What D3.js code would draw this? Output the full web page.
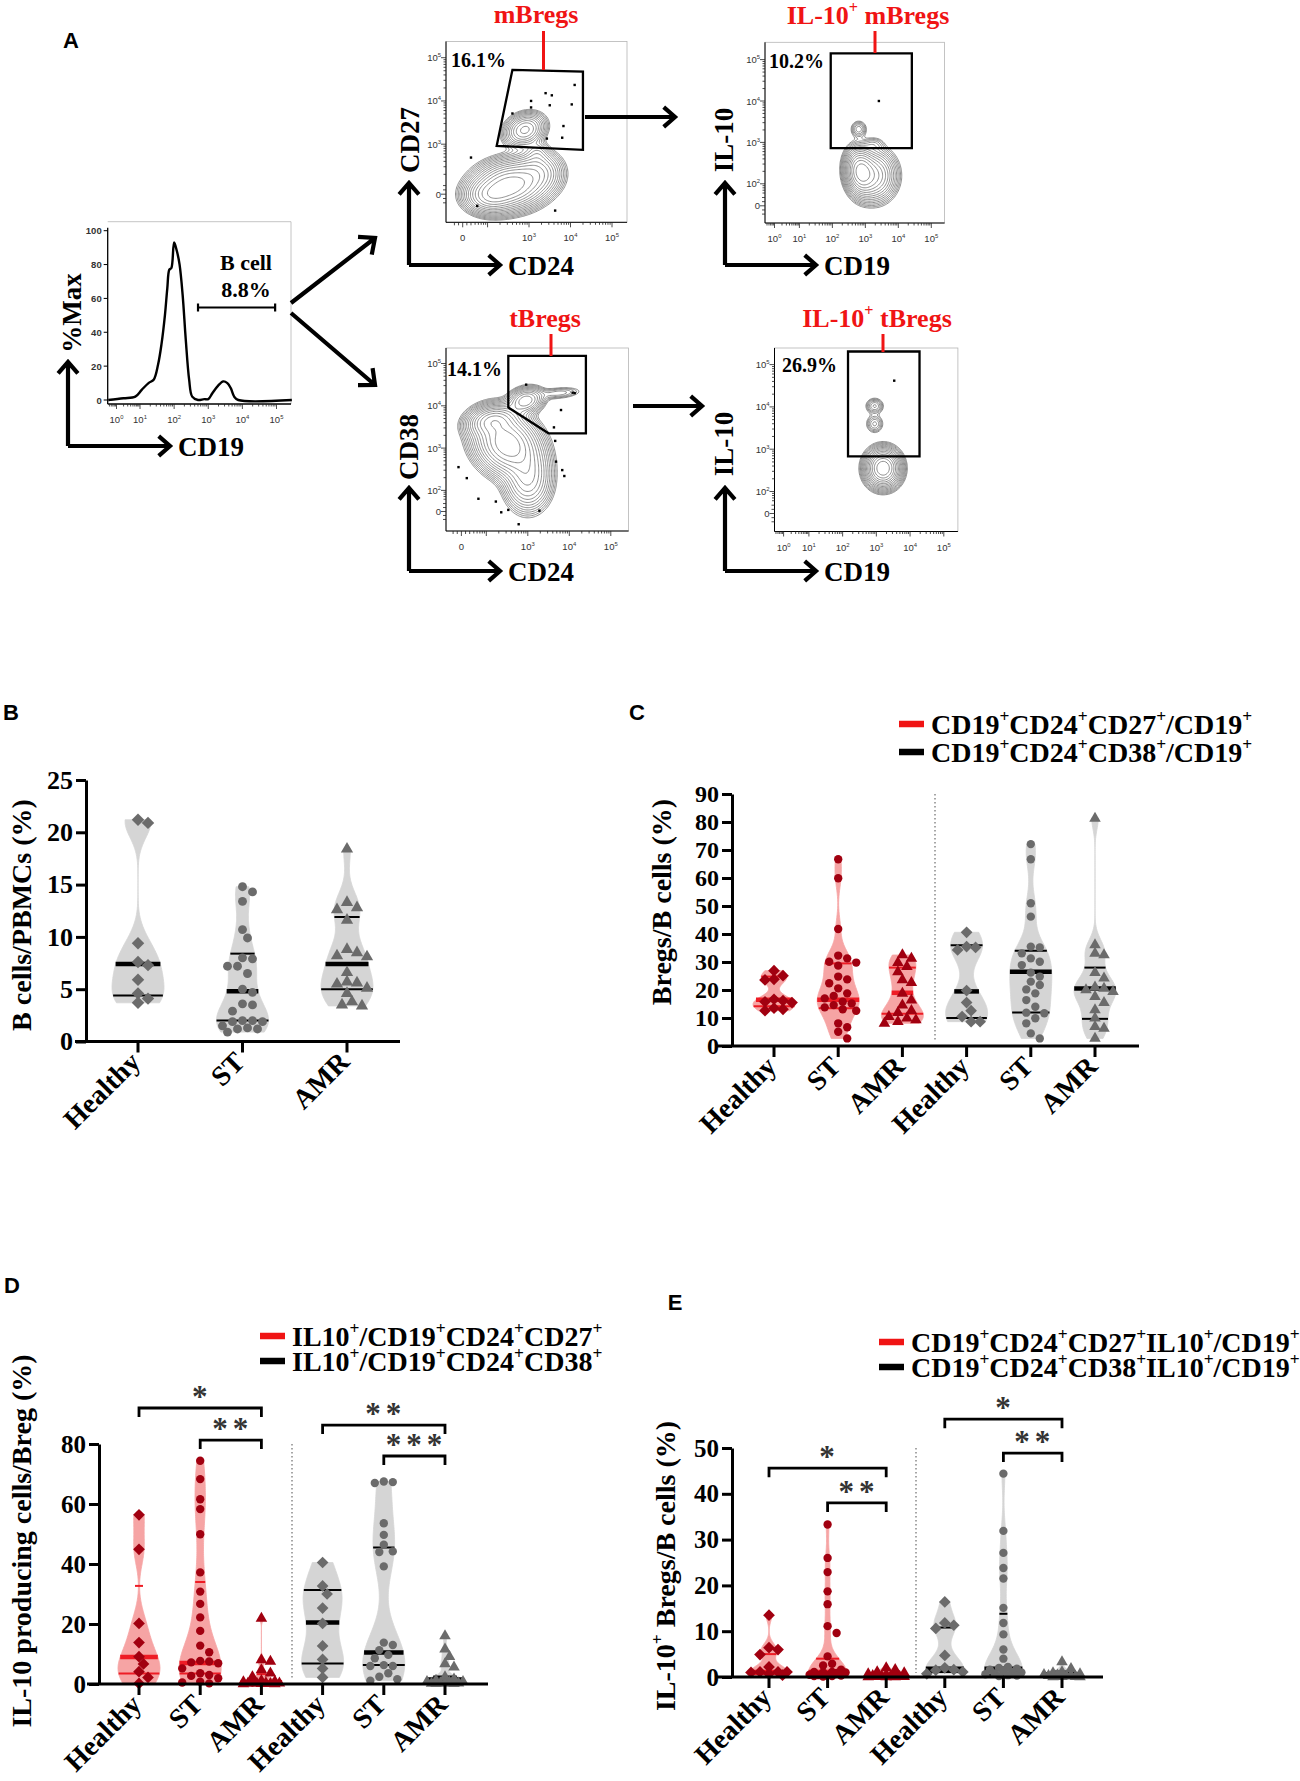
<!DOCTYPE html>
<html>
<head>
<meta charset="utf-8">
<title>Regulatory B cells</title>
<style>
  body { margin: 0; background: #fff; }
  svg { display: block; background: #fff; }
</style>
</head>
<body>
<script src="https://d3js.org/d3.v7.min.js"></script>
<script>
// ---------------- data ----------------
// Panel A: CD19 histogram trace (log10 CD19, % of max)
const histLog = [-0.35, 0.3, 0.8, 1.05, 1.25, 1.4, 1.53, 1.63, 1.73, 1.8, 1.86, 1.92, 2.0, 2.08, 2.16, 2.25, 2.34, 2.44, 2.53, 2.7, 2.88, 3.0, 3.12, 3.29, 3.44, 3.56, 3.66, 3.76, 3.88, 5.45];
const histPct = [0, 1, 2, 6, 10, 12, 21, 33, 50, 66, 77, 78, 93, 88, 80, 62, 36, 12, 2, 0, 0.5, 0.5, 4, 8.5, 11, 10, 7, 2, 0, 0];

// Flow populations: [x decade, y decade, sd x, sd y, weight, correlation]
const mBregPops = [[2.55, 2.05, 0.42, 0.27, 1.0, 0.1], [2.05, 1.8, 0.3, 0.2, 0.5, 0], [3.2, 2.35, 0.3, 0.25, 0.3, 0], [2.9, 3.33, 0.24, 0.19, 0.4, 0.2], [3.2, 2.8, 0.15, 0.15, 0.08, 0]];
const il10mPops = [[2.85, 2.3, 0.22, 0.27, 1.0, -0.1], [3.25, 2.2, 0.33, 0.3, 0.6, 0], [2.8, 3.32, 0.13, 0.11, 0.1, 0], [3.25, 2.95, 0.18, 0.1, 0.05, 0]];
const tBregPops = [[2.5, 3.1, 0.38, 0.36, 1.0, -0.2], [2.15, 3.65, 0.3, 0.18, 0.5, 0.2], [3.0, 2.3, 0.28, 0.4, 0.35, 0], [2.95, 4.12, 0.22, 0.16, 0.32, 0.2], [3.75, 4.3, 0.3, 0.08, 0.06, 0.3]];
const il10tPops = [[3.2, 2.55, 0.25, 0.22, 1.0, 0], [2.95, 4.02, 0.14, 0.1, 0.09, 0], [2.95, 3.6, 0.14, 0.12, 0.07, 0]];

// single events outside contours
const mBregDots = [[2.6, 3.71], [3.05, 4.0], [3.4, 4.18], [3.55, 4.13], [4.1, 4.37], [3.05, 3.85], [3.5, 3.9], [4.03, 3.92], [3.83, 3.42], [3.8, 3.15], [3.43, 3.13], [1.6, 2.69], [1.75, 1.57], [3.63, 1.46]];
const il10mDots = [[3.41, 4.0]];
const tBregDots = [[2.96, 4.5], [4.08, 4.31], [4.13, 4.3], [3.8, 3.9], [3.63, 3.49], [3.66, 3.17], [3.68, 2.68], [3.83, 2.48], [3.88, 2.34], [1.33, 2.55], [1.53, 2.29], [1.81, 1.79], [2.23, 1.72], [2.36, 1.45], [2.53, 1.51], [3.28, 1.49], [2.78, 1.15]];
const il10tDots = [[3.53, 4.62]];

// gates (decade units)
const mBregGate = [[2.6, 4.72], [4.3, 4.68], [4.3, 2.87], [2.22, 2.96]];
const il10mGate = [[1.95, 5.15], [4.41, 5.15], [4.41, 2.86], [1.95, 2.86]];
const tBregGate = [[2.53, 5.18], [4.4, 5.18], [4.4, 3.35], [3.5, 3.35], [2.53, 3.96]];
const il10tGate = [[2.16, 5.31], [4.28, 5.31], [4.28, 2.83], [2.16, 2.83]];

const groupLabels = ["Healthy", "ST", "AMR"];

// Panel B: B cells / PBMCs (%)
const bHealthy = [21.2, 20.9, 9.4, 7.6, 7.3, 5.9, 4.6, 4.1, 3.7];
const bST = [14.8, 14.3, 13.4, 10.7, 9.9, 8.0, 7.9, 7.2, 7.2, 6.5, 5.0, 4.7, 3.6, 3.5, 2.9, 2.0, 2.0, 1.9, 1.9, 1.5, 1.3, 1.2, 1.2, 0.9];
const bAMR = [18.4, 13.3, 12.8, 12.6, 11.6, 8.8, 8.5, 8.2, 8.1, 6.6, 5.7, 5.6, 5.5, 5.1, 4.6, 3.8, 3.5, 3.4];
const bMedian = [7.4, 4.8, 7.4], bQ1 = [4.4, 2.0, 5.0], bQ3 = [null, 8.4, 11.9];

// Panel C: Bregs / B cells (%)
const cRedHealthy = [26.9, 25.1, 23.8, 23.6, 16.7, 16.2, 15.8, 15.5, 13.5, 13.1, 12.6];
const cRedST = [66.7, 59.9, 41.8, 32.3, 31.3, 30.1, 29.8, 28.7, 24.8, 23.8, 22.4, 20.6, 18.8, 17.9, 17.0, 15.8, 15.2, 14.6, 13.8, 13.1, 12.6, 8.1, 6.7, 5.1, 2.7];
const cRedAMR = [32.5, 31.3, 29.8, 28.3, 26.5, 23.6, 22.6, 18.8, 16.4, 14.6, 12.6, 11.9, 10.5, 9.9, 9.3, 8.7, 8.1];
const cGrayHealthy = [40.6, 35.5, 35.2, 34.3, 19.8, 15.5, 12.6, 10.5, 8.7, 8.7];
const cGrayST = [72.1, 66.7, 51.0, 46.2, 35.5, 35.2, 33.1, 31.3, 30.1, 28.9, 26.2, 24.8, 23.0, 21.8, 20.2, 18.8, 16.4, 14.0, 11.9, 11.7, 9.9, 8.1, 4.5, 2.7];
const cGrayAMR = [81.3, 36.1, 33.1, 32.5, 26.2, 24.2, 21.0, 20.6, 20.0, 19.4, 17.6, 15.5, 12.9, 9.9, 6.9, 6.3, 2.7];
const cMedian = [16.5, 16.5, 19.0, 19.5, 26.5, 20.5], cQ1 = [14.2, 13.5, 11.5, 10.0, 12.0, 9.7], cQ3 = [24.8, 29.5, 28.0, 36.0, 34.0, 28.0];

// Panel D: IL-10 producing cells / Breg (%)
const dRedHealthy = [56.4, 44.9, 20.2, 13.8, 9.1, 6.7, 4.1, 2.2, 0.2];
const dRedST = [74.4, 68.3, 61.6, 58.3, 49.9, 37.2, 30.8, 26.7, 22.2, 17.7, 12.8, 10.6, 7.7, 7.5, 7.2, 6.9, 5.2, 3.6, 3.0, 2.7, 1.9, 0.8, 0.5, 0.2];
const dRedAMR = [21.9, 8.0, 7.5, 4.7, 3.6, 2.4, 1.1, 0.9, 0.7, 0.5, 0.4, 0.3, 0.2, 0.2, 0.1, 0.1, 0.0, 0.0];
const dGrayHealthy = [40.5, 32.7, 30.0, 25.3, 20.2, 12.7, 8.2, 5.2, 2.2];
const dGrayST = [67.5, 67.3, 67.0, 53.6, 49.7, 46.4, 44.2, 44.0, 39.2, 13.8, 13.0, 11.3, 9.7, 8.6, 6.3, 6.0, 6.0, 3.6, 2.4, 1.6, 1.1];
const dGrayAMR = [16.0, 11.6, 9.1, 6.7, 5.6, 2.4, 1.6, 1.2, 0.8, 0.8, 0.6, 0.4, 0.3, 0.2, 0.2, 0.1, 0.1];
const dMedian = [9.0, 7.0, 0.6, 20.5, 10.5, 1.5], dQ1 = [3.5, 3.5, 0.1, 6.8, 6.3, 0.4], dQ3 = [32.7, 34.0, 3.3, 31.3, 45.5, 2.5];
const dBrackets = [[0, 2, 92, "*"], [1, 2, 81.3, "**"], [3, 5, 86.3, "**"], [4, 5, 76, "***"]];

// Panel E: IL-10+ Bregs / B cells (%)
const eRedHealthy = [13.5, 6.4, 6.0, 4.9, 2.2, 1.1, 1.1, 1.1, 1.0, 0.7, 0.4];
const eRedST = [33.3, 26.0, 22.9, 18.7, 15.9, 11.1, 9.6, 4.5, 2.9, 2.5, 1.6, 1.1, 1.1, 1.0, 1.0, 0.9, 0.5, 0.4, 0.4, 0.3, 0.2, 0.2, 0.1];
const eRedAMR = [2.0, 1.6, 1.1, 0.9, 0.7, 0.5, 0.4, 0.3, 0.2, 0.2, 0.1, 0.1, 0.1, 0.0, 0.0, 0.0];
const eGrayHealthy = [16.4, 11.8, 11.3, 10.6, 4.7, 2.0, 1.6, 1.5, 1.1, 0.7];
const eGrayST = [44.4, 31.9, 27.1, 23.8, 21.5, 15.1, 11.8, 9.3, 6.0, 4.0, 2.2, 2.0, 1.8, 1.6, 1.3, 1.1, 1.0, 0.8, 0.6, 0.4, 0.3, 0.2];
const eGrayAMR = [3.3, 1.8, 1.1, 0.9, 0.7, 0.5, 0.4, 0.4, 0.3, 0.2, 0.1, 0.1, 0.0, 0.0];
const eMedian = [1.1, 1.1, 0.3, 1.8, 1.8, 0.6], eQ1 = [0.6, 0.4, 0.1, 1.1, 0.5, 0.2], eQ3 = [5.0, 4.0, 0.8, 10.8, 13.8, 1.2];
const eBrackets = [[0, 2, 45.6, "*"], [1, 2, 38.0, "**"], [3, 5, 56.3, "*"], [4, 5, 48.9, "**"]];

// ---------------- drawing ----------------
const SERIF = '"Liberation Serif","Times New Roman",serif';
const SANS = '"Liberation Sans",Arial,sans-serif';
const RED = "#f01414";

const svg = d3.select("body").append("svg").attr("width", 1300).attr("height", 1781);

// text with "^x" meaning superscript x
function rich(sel, str, fs) {
  const parts = str.split(/(\^.)/).filter(s => s.length);
  let up = false;
  parts.forEach(p => {
    if (p[0] === "^") {
      sel.append("tspan").attr("dy", up ? 0 : -0.42 * fs).attr("font-size", fs * 0.62).text(p.slice(1));
      up = true;
    } else {
      sel.append("tspan").attr("dy", up ? 0.42 * fs : 0).attr("font-size", fs).text(p);
      up = false;
    }
  });
  return sel;
}

function label(x, y, str, fs, opt = {}) {
  const t = svg.append("text").attr("x", x).attr("y", y)
    .attr("font-family", opt.family || SERIF).attr("font-weight", opt.weight || "bold")
    .attr("font-size", fs).attr("fill", opt.fill || "#000")
    .attr("text-anchor", opt.anchor || "start");
  if (opt.rotate) t.attr("transform", `rotate(${opt.rotate},${x},${y})`);
  return rich(t, str, fs);
}

function arrow(x1, y1, x2, y2, sw = 4.2, head = 15) {
  const a = Math.atan2(y2 - y1, x2 - x1), s = 0.72;
  const p = d3.path();
  p.moveTo(x1, y1); p.lineTo(x2, y2);
  p.moveTo(x2 - head * Math.cos(a - s), y2 - head * Math.sin(a - s));
  p.lineTo(x2, y2);
  p.lineTo(x2 - head * Math.cos(a + s), y2 - head * Math.sin(a + s));
  svg.append("path").attr("d", p.toString()).attr("fill", "none").attr("stroke", "#000")
    .attr("stroke-width", sw).attr("stroke-linejoin", "miter");
}

function lAxes(ox, oy, top, right, xName, yName, yNameX, yNameY) {
  arrow(ox, oy, ox, top);
  arrow(ox, oy, right, oy);
  label(right + 8, oy + 10, xName, 27);
  label(yNameX, yNameY, yName, 27, { anchor: "middle", rotate: -90 });
}

// log-decade ticks
function decadeTicks(g, scale, lo, hi, zero, horizontal, at, labels) {
  const ticks = [];
  for (let n = Math.floor(lo); n < 5; n++) {
    for (let k = 1; k <= 9; k++) {
      const v = n + Math.log10(k);
      if (v > lo && v <= 5.01 && (zero == null || v > zero + 0.25)) ticks.push([v, k === 1 ? 5 : 2.5]);
    }
  }
  ticks.push([5, 5]);
  if (zero != null) [-0.2, -0.1, 0, 0.1, 0.2].forEach(d => ticks.push([zero + d, d === 0 ? 5 : 3]));
  ticks.forEach(([v, len]) => {
    const p = scale(v);
    if (horizontal) g.append("line").attr("x1", p).attr("x2", p).attr("y1", at).attr("y2", at + len);
    else g.append("line").attr("y1", p).attr("y2", p).attr("x1", at).attr("x2", at - len);
  });
  g.selectAll("line").attr("stroke", "#222").attr("stroke-width", 0.8);
  labels.forEach(([v, s]) => {
    const p = scale(v);
    const t = g.append("text").attr("font-family", SANS).attr("font-size", 9.5).attr("fill", "#333");
    if (horizontal) t.attr("x", p).attr("y", at + 19).attr("text-anchor", "middle");
    else t.attr("x", at - 5).attr("y", p + 3.5).attr("text-anchor", "end");
    rich(t, s, 9.5);
  });
}

function flowPlot(c) {
  const g = svg.append("g");
  const x = d3.scaleLinear().domain(c.xKnots).range(c.xPx);
  const y = d3.scaleLinear().domain(c.yKnots).range(c.yPx);
  const [fx0, fy0, fx1, fy1] = c.frame;
  g.append("rect").attr("x", fx0).attr("y", fy0).attr("width", fx1 - fx0).attr("height", fy1 - fy0)
    .attr("fill", "none").attr("stroke", "#b5b5b5").attr("stroke-width", 0.8);
  const xd = [x.invert(fx0), x.invert(fx1)], yd = [y.invert(fy1), y.invert(fy0)];
  // density grid
  const nx = 150, ny = 150, vals = new Float64Array(nx * ny);
  for (let j = 0; j < ny; j++) {
    for (let i = 0; i < nx; i++) {
      const vx = xd[0] + (i + 0.5) / nx * (xd[1] - xd[0]);
      const vy = yd[1] - (j + 0.5) / ny * (yd[1] - yd[0]);
      let s = 0;
      c.pops.forEach(([mx, my, sx, sy, w, r]) => {
        const dx = (vx - mx) / sx, dy = (vy - my) / sy;
        s += w * Math.exp(-(dx * dx - 2 * r * dx * dy + dy * dy) / (2 * (1 - r * r)));
      });
      vals[j * nx + i] = s;
    }
  }
  const mx = d3.max(vals);
  const thr = d3.range(16).map(k => mx * Math.pow(0.76, k));
  const conts = d3.contours().size([nx, ny]).thresholds(thr)(vals);
  const proj = d3.geoTransform({
    point(px, py) {
      this.stream.point(x(xd[0] + px / nx * (xd[1] - xd[0])), y(yd[1] - py / ny * (yd[1] - yd[0])));
    }
  });
  g.append("g").selectAll("path").data(conts).join("path")
    .attr("d", d3.geoPath(proj)).attr("fill", "none")
    .attr("stroke", "#6a6a6a").attr("stroke-width", 0.75);
  g.append("g").selectAll("rect").data(c.dots).join("rect")
    .attr("x", d => x(d[0]) - 1.2).attr("y", d => y(d[1]) - 1.2)
    .attr("width", 2.4).attr("height", 2.4).attr("fill", "#000");
  g.append("polygon").attr("points", c.gate.map(d => [x(d[0]), y(d[1])].join(",")).join(" "))
    .attr("fill", "none").attr("stroke", "#000").attr("stroke-width", 2.3);
  g.append("line").attr("x1", fx0).attr("x2", fx0).attr("y1", fy0).attr("y2", fy1).attr("stroke", "#000");
  g.append("line").attr("x1", fx0).attr("x2", fx1).attr("y1", fy1).attr("y2", fy1).attr("stroke", "#000");
  decadeTicks(g.append("g"), x, xd[0], xd[1], c.xZero, true, fy1, c.xLabels);
  decadeTicks(g.append("g"), y, yd[0], yd[1], c.yZero, false, fx0, c.yLabels);
}

// ---------------- panel A ----------------
label(71, 48, "A", 22, { family: SANS, anchor: "middle" });

// histogram
{
  const g = svg.append("g");
  const fx0 = 107.7, fx1 = 291, fy0 = 221.7, fy1 = 404;
  const x = d3.scaleLinear().domain([0, 1, 5]).range([116.5, 140, 276.5]);
  const y = d3.scaleLinear().domain([0, 100]).range([400, 230.7]);
  g.append("path").attr("d", `M${fx0},${fy0}H${fx1}V${fy1}`).attr("fill", "none").attr("stroke", "#b5b5b5").attr("stroke-width", 0.8);
  g.append("line").attr("x1", fx0).attr("x2", fx0).attr("y1", fy0 + 6).attr("y2", fy1).attr("stroke", "#000").attr("stroke-width", 1.3);
  g.append("line").attr("x1", fx0).attr("x2", fx1).attr("y1", fy1).attr("y2", fy1).attr("stroke", "#000").attr("stroke-width", 1.3);
  decadeTicks(g.append("g"), x, -0.35, 5.4, null, true, fy1, d3.range(6).map(n => [n, "10^" + n]));
  const yt = g.append("g");
  d3.range(0, 101, 20).forEach(v => {
    yt.append("line").attr("x1", fx0).attr("x2", fx0 - 4).attr("y1", y(v)).attr("y2", y(v)).attr("stroke", "#000");
    yt.append("text").attr("x", fx0 - 6).attr("y", y(v) + 3.5).attr("text-anchor", "end")
      .attr("font-family", SANS).attr("font-weight", "bold").attr("font-size", 9.5).attr("fill", "#333").text(v);
  });
  g.append("path").datum(d3.zip(histLog, histPct))
    .attr("d", d3.line().x(d => x(d[0])).y(d => y(d[1])).curve(d3.curveCatmullRom.alpha(0.5)))
    .attr("fill", "none").attr("stroke", "#000").attr("stroke-width", 2.4).attr("stroke-linejoin", "round");
  const gy = 307.5, gx0 = x(2.7), gx1 = x(4.96);
  g.append("path").attr("d", `M${gx0},${gy}H${gx1}M${gx0},${gy - 4}V${gy + 4}M${gx1},${gy - 4}V${gy + 4}`)
    .attr("stroke", "#000").attr("stroke-width", 2.2);
  label(246, 270, "B cell", 22, { anchor: "middle" });
  label(246, 296.5, "8.8%", 22, { anchor: "middle" });
}
lAxes(68, 446, 362, 170, "CD19", "%Max", 81, 313);
arrow(291, 303, 375, 238, 4.2, 17);
arrow(291, 313, 375, 385, 4.2, 17);

// mBregs
flowPlot({
  frame: [446, 41.5, 627, 222.3], xKnots: [1.4, 3, 5], xPx: [462.7, 529, 612], yKnots: [1.84, 3, 5], yPx: [194.2, 144.2, 57.7],
  xZero: 1.4, yZero: 1.84, pops: mBregPops, dots: mBregDots, gate: mBregGate,
  xLabels: [[1.4, "0"], [3, "10^3"], [4, "10^4"], [5, "10^5"]], yLabels: [[1.84, "0"], [3, "10^3"], [4, "10^4"], [5, "10^5"]]
});
label(536, 23, "mBregs", 26, { anchor: "middle", fill: RED });
svg.append("line").attr("x1", 543.5).attr("x2", 543.5).attr("y1", 31).attr("y2", 70).attr("stroke", RED).attr("stroke-width", 3);
label(451, 67, "16.1%", 20);
lAxes(409, 265, 183, 500, "CD24", "CD27", 419, 140);
arrow(585, 117, 675, 117);

// IL-10+ mBregs
flowPlot({
  frame: [765, 42.3, 944.6, 223], xKnots: [0, 1, 5], xPx: [774.5, 799.4, 931.3], yKnots: [1.47, 2, 5], yPx: [205.8, 183.8, 59.6],
  xZero: null, yZero: 1.47, pops: il10mPops, dots: il10mDots, gate: il10mGate,
  xLabels: d3.range(6).map(n => [n, "10^" + n]), yLabels: [[1.47, "0"], [2, "10^2"], [3, "10^3"], [4, "10^4"], [5, "10^5"]]
});
label(868, 24, "IL-10^+ mBregs", 26, { anchor: "middle", fill: RED });
svg.append("line").attr("x1", 875).attr("x2", 875).attr("y1", 31).attr("y2", 53).attr("stroke", RED).attr("stroke-width", 3);
label(769, 68, "10.2%", 20);
lAxes(725, 265, 183, 816, "CD19", "IL-10", 733, 140);

// tBregs
flowPlot({
  frame: [446, 348, 628.6, 531], xKnots: [1.4, 3, 5], xPx: [461.4, 527.8, 610.8], yKnots: [1.47, 2, 5], yPx: [511.5, 490.4, 363.5],
  xZero: 1.4, yZero: 1.47, pops: tBregPops, dots: tBregDots, gate: tBregGate,
  xLabels: [[1.4, "0"], [3, "10^3"], [4, "10^4"], [5, "10^5"]], yLabels: [[1.47, "0"], [2, "10^2"], [3, "10^3"], [4, "10^4"], [5, "10^5"]]
});
label(545, 327, "tBregs", 26, { anchor: "middle", fill: RED });
svg.append("line").attr("x1", 551).attr("x2", 551).attr("y1", 334).attr("y2", 356).attr("stroke", RED).attr("stroke-width", 3);
label(447, 376, "14.1%", 20);
lAxes(409, 571, 488, 500, "CD24", "CD38", 418, 447);
arrow(633, 406, 702, 406);

// IL-10+ tBregs
flowPlot({
  frame: [774.5, 348, 957.9, 531.5], xKnots: [0, 1, 5], xPx: [783.6, 808.9, 943.8], yKnots: [1.47, 2, 5], yPx: [513.5, 491.5, 364.6],
  xZero: null, yZero: 1.47, pops: il10tPops, dots: il10tDots, gate: il10tGate,
  xLabels: d3.range(6).map(n => [n, "10^" + n]), yLabels: [[1.47, "0"], [2, "10^2"], [3, "10^3"], [4, "10^4"], [5, "10^5"]]
});
label(877, 327, "IL-10^+ tBregs", 26, { anchor: "middle", fill: RED });
svg.append("line").attr("x1", 883).attr("x2", 883).attr("y1", 334).attr("y2", 352).attr("stroke", RED).attr("stroke-width", 3);
label(782, 372, "26.9%", 20);
lAxes(725, 571, 488, 816, "CD19", "IL-10", 733, 444);

// ---------------- violin panels ----------------
const styles = {
  gray: { fill: "#d5d5d5", pt: "#6b6b6b", line: "#000" },
  red: { fill: "#f6a4a4", pt: "#a10010", line: "#ee1c25" }
};
const shapes = { diamond: d3.symbolSquare, circle: d3.symbolCircle, triangle: d3.symbolTriangle };

// beeswarm offsets, kept within +-maxOff (points pile up where dense)
function swarm(vals, y, diam, maxOff) {
  const order = d3.range(vals.length).sort((a, b) => vals[b] - vals[a]);
  const placed = [], off = [];
  order.forEach(i => {
    const py = y(vals[i]);
    let best = 0, bestD = -1;
    for (let k = 0; ; k++) {
      const dx = (k % 2 ? 1 : -1) * Math.ceil(k / 2) * diam * 0.5;
      if (Math.abs(dx) > maxOff) break;
      const dmin = placed.length ? d3.min(placed, ([qx, qy]) => Math.hypot(qx - dx, qy - py)) : Infinity;
      if (dmin >= diam * 0.92) { best = dx; break; }
      if (dmin > bestD) { bestD = dmin; best = dx; }
    }
    placed.push([best, py]);
    off[i] = best;
  });
  return off;
}

function violinPanel(p) {
  const g = svg.append("g");
  const y = d3.scaleLinear().domain([0, p.yMax]).range([p.yBase, p.yTop]);
  const x = d3.scalePoint().domain(d3.range(p.groups.length)).range(p.catRange);
  if (p.sepX) g.append("line").attr("x1", p.sepX).attr("x2", p.sepX).attr("y1", p.yTop).attr("y2", p.yBase - 4)
    .attr("stroke", "#777").attr("stroke-width", 1.3).attr("stroke-dasharray", "1.5,2.5");

  p.groups.forEach((grp, i) => {
    const st = styles[grp.style], vals = grp.values;
    const sorted = vals.slice().sort(d3.ascending);
    const [lo, hi] = d3.extent(vals), n = vals.length;
    const iqr = d3.quantileSorted(sorted, 0.75) - d3.quantileSorted(sorted, 0.25);
    const sd = d3.deviation(vals);
    let h = 0.68 * Math.min(sd, iqr / 1.34 || sd) * Math.pow(n, -0.2);
    h = Math.max(h, (hi - lo) * 0.05, p.yMax * 0.012);
    const f = v => d3.mean(vals, d => Math.exp(-0.5 * ((v - d) / h) ** 2));
    const steps = d3.range(121).map(k => lo + (hi - lo) * k / 120);
    const dmax = d3.max(steps, f);
    const w = v => f(v) / dmax * p.halfW;
    const cx = x(i);
    g.append("path").datum(steps)
      .attr("d", d3.area().x0(v => cx - w(v)).x1(v => cx + w(v)).y(v => y(v)))
      .attr("fill", st.fill).attr("stroke", st.fill).attr("stroke-width", 0.8);
    [[grp.q1, 2], [grp.q3, 2], [grp.med, 4.5]].forEach(([v, sw]) => {
      if (v == null || v < lo || v > hi) return;
      const hw = Math.max(w(v), 4);
      g.append("line").attr("x1", cx - hw).attr("x2", cx + hw).attr("y1", y(v)).attr("y2", y(v))
        .attr("stroke", st.line).attr("stroke-width", sw);
    });
    const off = swarm(vals, y, p.diam, p.halfW * 0.95);
    const sym = d3.symbol(shapes[grp.shape], grp.shape === "diamond" ? p.ptSize * 1.25 : grp.shape === "triangle" ? p.ptSize * 1.05 : p.ptSize);
    g.append("g").selectAll("path").data(vals).join("path")
      .attr("d", sym)
      .attr("transform", (d, j) => `translate(${cx + off[j]},${y(d)})` + (grp.shape === "diamond" ? " rotate(45)" : ""))
      .attr("fill", st.pt);
  });

  // y axis
  const ya = g.append("g").attr("transform", `translate(${p.axisX},0)`)
    .call(d3.axisLeft(y).tickValues(d3.range(0, p.yMax + 0.001, p.yStep)).tickSize(10).tickSizeOuter(0).tickPadding(3));
  ya.select(".domain").attr("stroke-width", 3);
  ya.selectAll(".tick line").attr("stroke-width", 3);
  ya.selectAll(".tick text").attr("font-family", SERIF).attr("font-weight", "bold").attr("font-size", p.tickFs).attr("fill", "#000");
  // x axis
  g.append("line").attr("x1", p.xLine[0]).attr("x2", p.xLine[1]).attr("y1", p.yBase).attr("y2", p.yBase)
    .attr("stroke", "#000").attr("stroke-width", 3);
  p.groups.forEach((grp, i) => {
    g.append("line").attr("x1", x(i)).attr("x2", x(i)).attr("y1", p.yBase).attr("y2", p.yBase + 11)
      .attr("stroke", "#000").attr("stroke-width", 3);
    const tx = x(i) + 4, ty = p.yBase + 22;
    g.append("text").attr("x", tx).attr("y", ty).attr("transform", `rotate(-45,${tx},${ty})`)
      .attr("text-anchor", "end").attr("font-family", SERIF).attr("font-weight", "bold")
      .attr("font-size", 28).text(groupLabels[i % 3]);
  });
  label(p.yLabelPos[0], p.yLabelPos[1], p.yLabel, 28, { anchor: "middle", rotate: -90 });
  if (p.legend) p.legend.forEach(([txt, col], k) => {
    const ly = p.legendPos[1] + k * p.legendGap;
    svg.append("line").attr("x1", p.legendPos[0]).attr("x2", p.legendPos[0] + 25).attr("y1", ly).attr("y2", ly)
      .attr("stroke", col).attr("stroke-width", 6.5);
    label(p.legendPos[0] + 32, ly + 9.5, txt, 28);
  });
  if (p.brackets) p.brackets.forEach(([a, b, v, s]) => {
    const by = y(v);
    g.append("path").attr("d", `M${x(a)},${by + 9}V${by}H${x(b)}V${by + 9}`)
      .attr("fill", "none").attr("stroke", "#000").attr("stroke-width", 2.8);
    g.append("text").attr("x", (x(a) + x(b)) / 2 + 2).attr("y", by - 1).attr("text-anchor", "middle")
      .attr("font-family", SERIF).attr("font-weight", "bold").attr("font-size", 31).attr("fill", "#333")
      .attr("letter-spacing", 5).text(s);
  });
}

label(11, 720, "B", 22, { family: SANS, anchor: "middle" });
violinPanel({
  yBase: 1041.5, yTop: 780, yMax: 25, yStep: 5, axisX: 86, xLine: [75, 400], catRange: [138, 347], halfW: 26,
  diam: 10, ptSize: 62, tickFs: 26, yLabel: "B cells/PBMCs (%)", yLabelPos: [31, 915],
  groups: [
    { values: bHealthy, style: "gray", shape: "diamond", med: bMedian[0], q1: bQ1[0], q3: bQ3[0] },
    { values: bST, style: "gray", shape: "circle", med: bMedian[1], q1: bQ1[1], q3: bQ3[1] },
    { values: bAMR, style: "gray", shape: "triangle", med: bMedian[2], q1: bQ1[2], q3: bQ3[2] }
  ]
});

const shapeOrder = ["diamond", "circle", "triangle"];
function sixGroups(lists, med, q1, q3) {
  return lists.map((v, i) => ({ values: v, style: i < 3 ? "red" : "gray", shape: shapeOrder[i % 3], med: med[i], q1: q1[i], q3: q3[i] }));
}

label(637, 720, "C", 22, { family: SANS, anchor: "middle" });
violinPanel({
  yBase: 1046, yTop: 794, yMax: 90, yStep: 10, axisX: 732, xLine: [717, 1139], catRange: [774, 1095], halfW: 21, sepX: 935,
  diam: 9, ptSize: 55, tickFs: 24, yLabel: "Bregs/B cells (%)", yLabelPos: [671, 902],
  legend: [["CD19^+CD24^+CD27^+/CD19^+", RED], ["CD19^+CD24^+CD38^+/CD19^+", "#000"]], legendPos: [899, 724], legendGap: 28,
  groups: sixGroups([cRedHealthy, cRedST, cRedAMR, cGrayHealthy, cGrayST, cGrayAMR], cMedian, cQ1, cQ3)
});

label(12, 1293, "D", 22, { family: SANS, anchor: "middle" });
violinPanel({
  yBase: 1684, yTop: 1444, yMax: 80, yStep: 20, axisX: 99, xLine: [87, 488], catRange: [139, 445], halfW: 21, sepX: 292,
  diam: 9, ptSize: 55, tickFs: 25, yLabel: "IL-10 producing cells/Breg (%)", yLabelPos: [31, 1541],
  legend: [["IL10^+/CD19^+CD24^+CD27^+", RED], ["IL10^+/CD19^+CD24^+CD38^+", "#000"]], legendPos: [260, 1336], legendGap: 25,
  brackets: dBrackets,
  groups: sixGroups([dRedHealthy, dRedST, dRedAMR, dGrayHealthy, dGrayST, dGrayAMR], dMedian, dQ1, dQ3)
});

label(675, 1310, "E", 22, { family: SANS, anchor: "middle" });
violinPanel({
  yBase: 1677, yTop: 1448, yMax: 50, yStep: 10, axisX: 732, xLine: [717, 1103], catRange: [769, 1062], halfW: 19, sepX: 916,
  diam: 9, ptSize: 55, tickFs: 25, yLabel: "IL-10^+ Bregs/B cells (%)", yLabelPos: [675, 1566],
  legend: [["CD19^+CD24^+CD27^+IL10^+/CD19^+", RED], ["CD19^+CD24^+CD38^+IL10^+/CD19^+", "#000"]], legendPos: [879, 1342], legendGap: 25,
  brackets: eBrackets,
  groups: sixGroups([eRedHealthy, eRedST, eRedAMR, eGrayHealthy, eGrayST, eGrayAMR], eMedian, eQ1, eQ3)
});
</script>
</body>
</html>
